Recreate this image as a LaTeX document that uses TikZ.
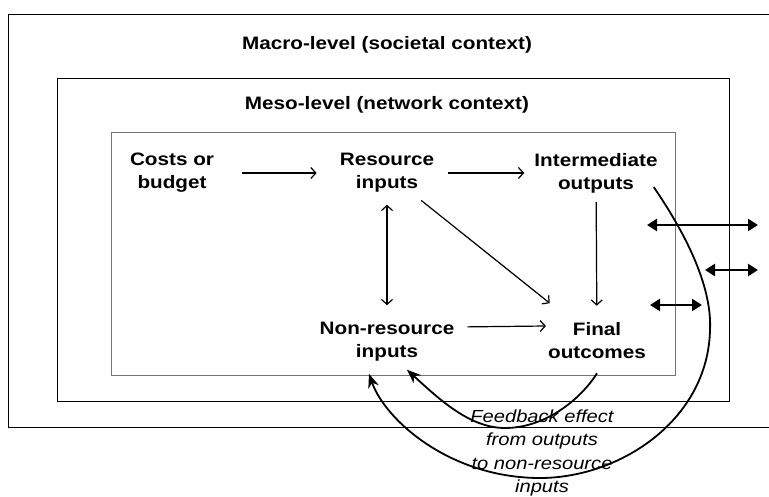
\documentclass[tikz,border=0pt]{standalone}
\usepackage{fontspec}
\setmainfont{Liberation Sans}[FakeStretch=1.15]
\usetikzlibrary{arrows.meta}

\begin{document}
\begin{tikzpicture}[x=1pt,y=-1pt,
		stage/.style={align=center,font=\bfseries\fontsize{18}{23}\selectfont,inner sep=2pt},
		level/.style={font=\bfseries\fontsize{18}{22}\selectfont,inner sep=2pt},
		note/.style={align=center,font=\itshape\fontsize{17.5}{23.3}\selectfont,inner sep=2pt},
		flow/.style={line width=1.2pt,-{Straight Barb[length=5pt,width=11pt]}},
		twoway/.style={line width=1.2pt,{Straight Barb[length=5pt,width=11pt]}-{Straight Barb[length=5pt,width=11pt]}},
		exchange/.style={line width=2.6pt,{Triangle[length=10pt,width=12pt]}-{Triangle[length=10pt,width=12pt]}},
		feedback/.style={line width=1.8pt,-{Stealth[length=14pt,width=11pt]}}]
	\useasboundingbox (0,0) rectangle (769,497);
	% Ebenen
	\draw[line width=0.8pt] (769,14) to (8,14) to (8,427) to (769,427);
	\draw[line width=0.9pt] (57,78) rectangle (729,401);
	\draw[line width=1pt,black!55] (111,133) rectangle (675,375);
	\node[level] (macro) at (387,45) {Macro-level (societal context)};
	\node[level] (meso) at (387,105) {Meso-level (network context)};
	% Stufen
	\node[stage] (costs) at (172,173) {Costs or\\budget};
	\node[stage] (res) at (387,173) {Resource\\inputs};
	\node[stage] (inter) at (596,173) {Intermediate\\outputs};
	\node[stage] (nonres) at (387,342) {Non-resource\\inputs};
	\node[stage] (final) at (597,341) {Final\\outcomes};
	\draw[flow,shorten <=26pt,shorten >=21pt] (costs) to (res);
	\draw[flow,shorten <=12pt,shorten >=8pt] (res) to (inter);
	\draw[twoway,shorten <=10pt,shorten >=15pt] (res) to (nonres);
	\draw[flow,shorten <=9pt,shorten >=28pt] (res) to (final);
	\draw[flow,shorten <=7pt,shorten >=15pt] (inter) to (final);
	\draw[flow,shorten <=11pt] ([yshift=15pt]nonres.east) to ([yshift=15pt]final.west);
	% Wechselwirkungen mit den Ebenen
	\coordinate (in1) at (647,225);
	\coordinate (out1) at (758,225);
	\coordinate (in2) at (705,270);
	\coordinate (out2) at (758,270);
	\coordinate (in3) at (650,305);
	\coordinate (out3) at (702,305);
	\draw[exchange] (in1) to (out1);
	\draw[exchange] (in2) to (out2);
	\draw[exchange] (in3) to (out3);
	% Rueckkopplung
	\draw[feedback] ([yshift=-12pt]final.south) .. controls (580,400) and (545,428) .. (505,428)%
		.. controls (470,428) and (440,400) .. ([xshift=20pt,yshift=-6pt]nonres.south);
	\draw[feedback] ([xshift=-6pt,yshift=8pt]inter.south east) .. controls (690,240) and (712,290) .. (710,330)%
		.. controls (708,420) and (620,478) .. (540,478)%
		.. controls (450,478) and (385,420) .. ([xshift=-18pt,yshift=-10pt]nonres.south);
	\node[note] (fb) at (542,453) {Feedback effect\\from outputs\\to non-resource\\inputs};
\end{tikzpicture}
\end{document}
